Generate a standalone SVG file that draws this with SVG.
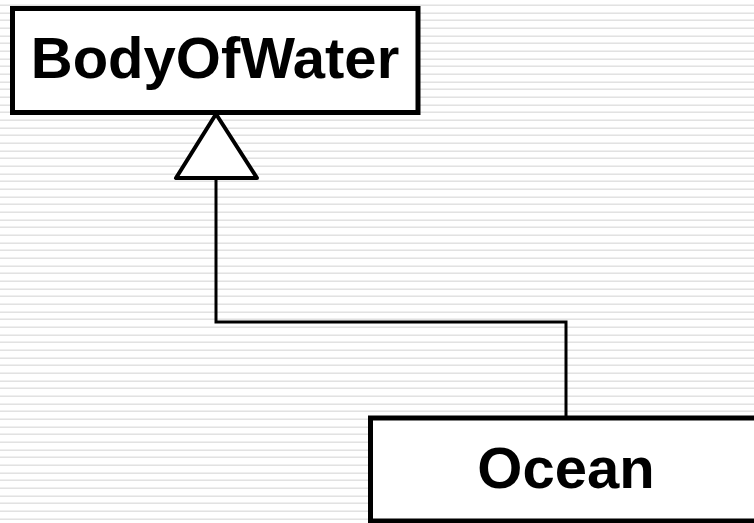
<svg xmlns="http://www.w3.org/2000/svg" width="754" height="523" viewBox="0 0 754 523">
  <defs>
    <!-- faint horizontal ruling used as the page background -->
    <pattern id="ruling" patternUnits="userSpaceOnUse" x="0" y="0" width="754" height="23">
      <rect x="0" y="0" width="754" height="23" fill="#ffffff"/>
      <rect x="0" y="4" width="754" height="1" fill="#efefef"/>
      <rect x="0" y="5" width="754" height="1" fill="#e2e2e2"/>
      <rect x="0" y="12" width="754" height="1" fill="#efefef"/>
      <rect x="0" y="13" width="754" height="1" fill="#e2e2e2"/>
      <rect x="0" y="19" width="754" height="1" fill="#efefef"/>
      <rect x="0" y="20" width="754" height="1" fill="#e2e2e2"/>
    </pattern>
    <style>
      .cls { fill: #ffffff; stroke: #000000; stroke-width: 5; }
      .name { font-family: "Liberation Sans", Arial, sans-serif; font-weight: bold; font-size: 58px; fill: #000000; text-anchor: middle; }
      .link { fill: none; stroke: #000000; stroke-width: 3; }
      .head { fill: #ffffff; stroke: #000000; stroke-width: 4; stroke-linejoin: round; }
    </style>
  </defs>

  <rect x="0" y="0" width="754" height="523" fill="url(#ruling)"/>

  <!-- generalization: Ocean inherits from BodyOfWater -->
  <g id="connectors">
    <polyline class="link" points="566,418 566,322 216,322 216,178"/>
    <polygon class="head" points="216,114 176,178 257,178"/>
  </g>

  <g id="BodyOfWater">
    <rect class="cls" x="12.5" y="8.5" width="405.5" height="104"/>
    <text class="name" x="215" y="78">BodyOfWater</text>
  </g>

  <g id="Ocean">
    <rect class="cls" x="370.5" y="418" width="400" height="103"/>
    <text class="name" x="566" y="488">Ocean</text>
  </g>
</svg>
